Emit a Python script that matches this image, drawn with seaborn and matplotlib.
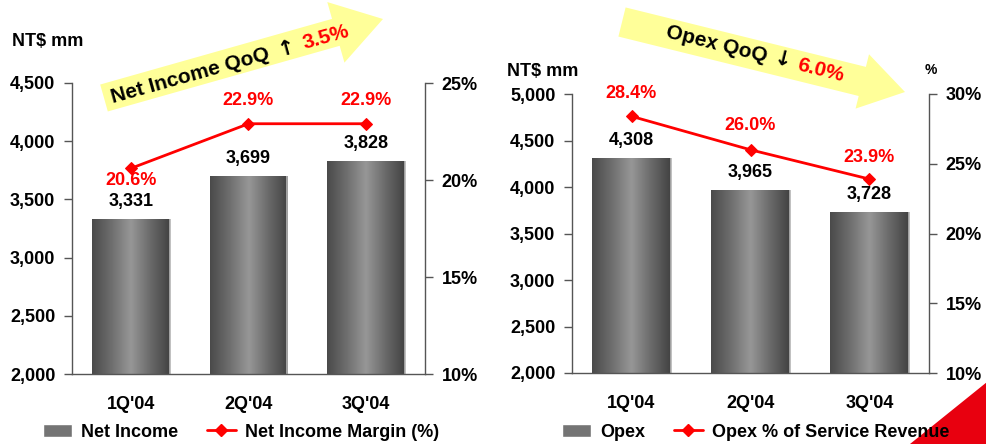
import numpy as np
import pandas as pd
import matplotlib
matplotlib.use('Agg')
import matplotlib.pyplot as plt
import seaborn as sns
from matplotlib.patches import FancyArrow, Polygon, Patch
from matplotlib.lines import Line2D
from matplotlib.colors import LinearSegmentedColormap
from matplotlib.ticker import FuncFormatter

# ---------------- data ----------------
quarters = ["1Q'04", "2Q'04", "3Q'04"]
net_income = [3331, 3699, 3828]
net_margin = [20.6, 22.9, 22.9]
opex = [4308, 3965, 3728]
opex_pct = [28.4, 26.0, 23.9]

left_yticks = [2000, 2500, 3000, 3500, 4000, 4500]
left_pct_ticks = [10, 15, 20, 25]
right_yticks = [2000, 2500, 3000, 3500, 4000, 4500, 5000]
right_pct_ticks = [10, 15, 20, 25, 30]

# ---------------- style ----------------
sns.set_theme(style='white')
plt.rcParams['font.family'] = ['Liberation Sans', 'DejaVu Sans']
plt.rcParams['font.weight'] = 'bold'
for k in ['text.color', 'axes.labelcolor', 'xtick.color', 'ytick.color']:
    plt.rcParams[k] = 'black'

W, H = 987, 444
fig = plt.figure(figsize=(W / 100, H / 100), dpi=100)
fig.patch.set_facecolor('white')


def rect(x0, y0, x1, y1):
    return [x0 / W, 1 - y1 / H, (x1 - x0) / W, (y1 - y0) / H]


bar_cmap = LinearSegmentedColormap.from_list(
    'bar', ['#4a4a4a', '#6e6e6e', '#979797', '#6a6a6a', '#424242'])

FS = 13
RED = '#FF0000'
SPINE = '#555555'


def gradient_bars(ax):
    xl, yl = ax.get_xlim(), ax.get_ylim()
    grad = np.linspace(0, 1, 256).reshape(1, -1)
    for p in ax.patches:
        x0, y0 = p.get_x(), p.get_y()
        w, h = p.get_width(), p.get_height()
        bot = max(y0, yl[0])
        top = min(y0 + h, yl[1])
        ax.imshow(grad, cmap=bar_cmap, extent=[x0, x0 + w, bot, top],
                  aspect='auto', zorder=p.get_zorder() + 0.1,
                  interpolation='bicubic')
        ax.plot([x0 + w, x0 + w], [bot, top], color='#b5b5b5', lw=1.2,
                zorder=p.get_zorder() + 0.2, solid_capstyle='butt')
    ax.set_xlim(xl)
    ax.set_ylim(yl)


def panel(axrect, values, pct, yticks, pticks, pct_offsets):
    ax = fig.add_axes(axrect)
    df = pd.DataFrame({'q': quarters, 'v': values})
    sns.barplot(data=df, x='q', y='v', ax=ax, width=0.66, color='#777777',
                saturation=1)
    ax.set_ylim(yticks[0], yticks[-1])
    ax.set_yticks(yticks)
    ax.yaxis.set_major_formatter(FuncFormatter(lambda v, p: f'{v:,.0f}'))
    ax.set_xlabel('')
    ax.set_ylabel('')
    gradient_bars(ax)
    for i, v in enumerate(values):
        ax.annotate(f'{v:,}', (i, v), xytext=(0, 12.6), textcoords='offset points',
                    ha='center', va='center', fontsize=FS, weight='bold',
                    color='black')
    ax.tick_params(axis='y', left=True, direction='out', length=6, width=1,
                   color=SPINE, pad=6, labelsize=FS)
    ax.tick_params(axis='x', bottom=False, length=0, pad=16, labelsize=FS)
    for s in ['top', 'right']:
        ax.spines[s].set_visible(False)
    for s in ['left', 'bottom']:
        ax.spines[s].set_color(SPINE)
        ax.spines[s].set_linewidth(1)

    axb = ax.twinx()
    pos = np.arange(len(quarters))
    sns.lineplot(x=pos, y=pct, ax=axb, color=RED, marker='D', markersize=6,
                 markeredgecolor=RED, linewidth=2)
    axb.set_ylim(pticks[0], pticks[-1])
    axb.set_yticks(pticks)
    axb.yaxis.set_major_formatter(FuncFormatter(lambda v, p: f'{v:.0f}%'))
    axb.set_ylabel('')
    axb.tick_params(axis='y', right=True, direction='out', length=6, width=1,
                    color=SPINE, pad=6, labelsize=FS)
    for s in ['top', 'left', 'bottom']:
        axb.spines[s].set_visible(False)
    axb.spines['right'].set_color(SPINE)
    axb.spines['right'].set_linewidth(1)
    for i, v in enumerate(pct):
        axb.annotate(f'{v:.1f}%', (i, v), xytext=(0, pct_offsets[i]),
                     textcoords='offset points', ha='center', va='center',
                     fontsize=FS, weight='bold', color=RED)
    ax.set_xlim(-0.5, len(quarters) - 0.5)
    axb.set_xlim(-0.5, len(quarters) - 0.5)
    return ax, axb


panel(rect(72, 83, 425, 374), net_income, net_margin, left_yticks,
      left_pct_ticks, [-8.6, 16.5, 16.5])
panel(rect(572, 94, 929, 373), opex, opex_pct, right_yticks,
      right_pct_ticks, [16.5, 17.5, 15.5])

# unit labels
fig.text(12 / W, 1 - 42 / H, 'NT$ mm', ha='left', va='center', fontsize=FS,
         weight='bold')
fig.text(507 / W, 1 - 72 / H, 'NT$ mm', ha='left', va='center', fontsize=FS,
         weight='bold')
fig.text(931 / W, 1 - 70 / H, '%', ha='center', va='center', fontsize=10,
         weight='bold')

# legends
leg_kw = dict(loc='center left', ncol=2, frameon=False, fontsize=FS,
              handlelength=1.6, handletextpad=0.5, columnspacing=1.6,
              borderpad=0, borderaxespad=0, handleheight=0.7)
line_handle = Line2D([], [], color=RED, marker='D', markersize=6, linewidth=2)
fig.legend([Patch(facecolor='#747474'), line_handle],
           ['Net Income', 'Net Income Margin (%)'],
           bbox_to_anchor=(43 / W, 1 - 432 / H), **leg_kw)
fig.legend([Patch(facecolor='#747474'), line_handle],
           ['Opex', 'Opex % of Service Revenue'],
           bbox_to_anchor=(562 / W, 1 - 432 / H), **leg_kw)

# overlay decorations
axo = fig.add_axes([0, 0, 1, 1], zorder=3)
axo.set_xlim(0, W)
axo.set_ylim(H, 0)
axo.axis('off')
axo.patch.set_alpha(0)

YEL = '#FFFF99'
axo.add_patch(FancyArrow(104, 98, 383 - 104, 19 - 98, width=28, head_width=63,
                         head_length=49, length_includes_head=True,
                         color=YEL, lw=0))
axo.add_patch(FancyArrow(622, 22, 905 - 622, 92 - 22, width=30, head_width=56,
                         head_length=44, length_includes_head=True,
                         color=YEL, lw=0))
axo.add_patch(Polygon([(910, H), (W, H), (W, 382)], closed=True,
                      color='#E8000F', lw=0, zorder=0))

renderer = fig.canvas.get_renderer()


def rotated_pieces(x, y, angle, pieces, fontsize):
    a = np.deg2rad(angle)
    cx, cy = x, y
    for s, color, fam, gap in pieces:
        kw = dict(fontsize=fontsize, weight='bold', family=fam)
        tmp = fig.text(0, 0, s, **kw)
        wdt = tmp.get_window_extent(renderer).width
        tmp.remove()
        axo.text(cx, cy, s, rotation=angle, rotation_mode='anchor', ha='left',
                 va='baseline', color=color, **kw)
        adv = wdt + gap
        cx += adv * np.cos(a)
        cy -= adv * np.sin(a)


SANS = ['Liberation Sans', 'DejaVu Sans']
ARR = ['DejaVu Sans']
rotated_pieces(113, 103, 15.6, [('Net Income QoQ', 'black', SANS, 10),
                                ('\u2191', 'black', ARR, 8),
                                ('3.5%', RED, SANS, 0)], 15)
rotated_pieces(665, 37, -14, [('Opex QoQ', 'black', SANS, 8),
                              ('\u2193', 'black', ARR, 6),
                              ('6.0%', RED, SANS, 0)], 15)

fig.savefig('out.png', dpi=100, facecolor='white')
